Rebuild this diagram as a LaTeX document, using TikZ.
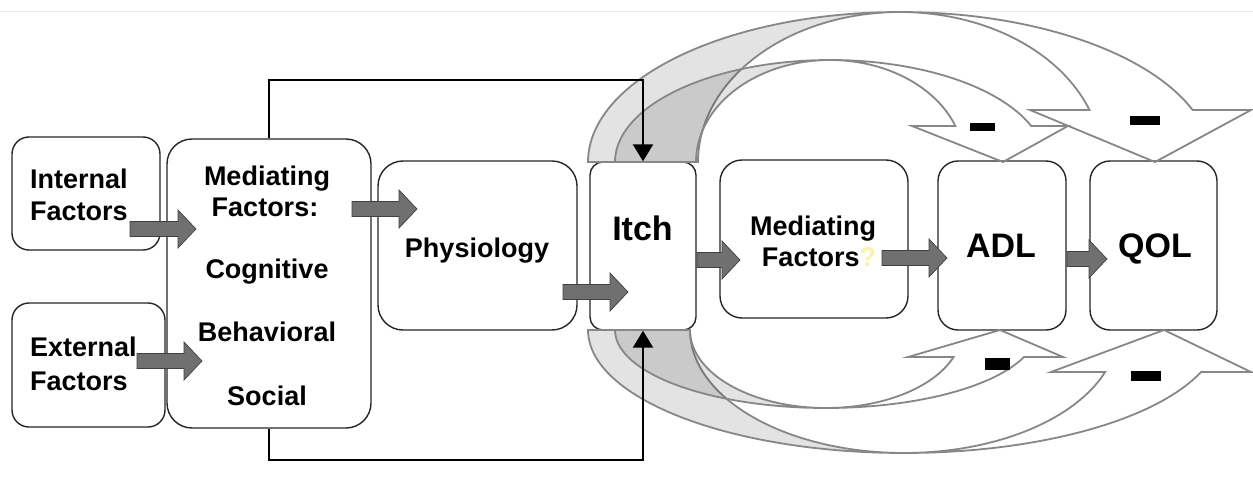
\documentclass[tikz,border=0pt]{standalone}
\usepackage{fontspec}
\setmainfont{Liberation Sans}
\usetikzlibrary{arrows.meta,calc}
\definecolor{blockgray}{RGB}{112,112,112}
\definecolor{curvegray}{RGB}{135,135,135}
\definecolor{qyellow}{RGB}{250,244,170}
\tikzset{
  box/.style={draw=black!85, line width=1.4pt, inner sep=0pt, fill=white},
  lbl/.style={font=\bfseries\fontsize{27}{32}\selectfont, inner sep=0pt},
  biglbl/.style={font=\bfseries\fontsize{34}{40}\selectfont, inner sep=0pt},
  barrow/.style={fill=blockgray, draw=black!75, line width=0.7pt, line join=miter},
  curveline/.style={draw=curvegray, line width=1.8pt, line join=miter},
  curvefill/.style={fill=black, fill opacity=0.11},
  fb/.style={line width=2.2pt, -{Triangle[length=17pt,width=20pt]}},
  minusbar/.style={fill=black, inner sep=0pt, draw=none},
}
% block arrow from coordinate #1 to tip coordinate #2 (horizontal)
\newcommand{\blockarrow}[2]{%
  \draw[barrow] ($(#1)+(0,-7.5)$) -- ($(#2)+(-18,-7.5)$) -- ($(#2)+(-18,-19)$) -- (#2)
    -- ($(#2)+(-18,19)$) -- ($(#2)+(-18,7.5)$) -- ($(#1)+(0,7.5)$) -- cycle;}
% curved ribbon arrow; parameters in \ccx \ccy \cro \cri \cry \csg \chh \chl \chr \ctx
\newcommand{\drawcurve}{%
  \pgfmathsetmacro{\cte}{asin(\chh/\cry)}%
  \pgfmathsetmacro{\chy}{\ccy+\csg*\chh}%
  \fill[curvefill] plot[domain=180:90,samples=50,variable=\t] ({\ccx+\cro*cos(\t)},{\ccy+\csg*\cry*sin(\t)})
     -- plot[domain=90:180,samples=50,variable=\t] ({\ccx+\cri*cos(\t)},{\ccy+\csg*\cry*sin(\t)}) -- cycle;
  \draw[curveline] plot[domain=180:\cte,samples=90,variable=\t] ({\ccx+\cro*cos(\t)},{\ccy+\csg*\cry*sin(\t)})
     -- (\chr,\chy) -- (\ctx,\ccy) -- (\chl,\chy)
     -- plot[domain=\cte:180,samples=90,variable=\t] ({\ccx+\cri*cos(\t)},{\ccy+\csg*\cry*sin(\t)}) -- cycle;
}
\begin{document}
\begin{tikzpicture}[x=1pt,y=-1pt]
\useasboundingbox (0,0) rectangle (1253,487);
\fill[white] (0,0) rectangle (1253,487);
\draw[black!8, line width=0.8pt] (0,11.5) -- (1253,11.5);

% boxes
\node[box, rounded corners=17pt, minimum width=148pt, minimum height=113pt] (intf) at (86,193.5) {};
\node[box, rounded corners=17pt, minimum width=153pt, minimum height=124pt] (extf) at (88.5,365) {};
\node[box, rounded corners=25pt, minimum width=204pt, minimum height=289pt] (med) at (269,283.5) {};
\node[box, rounded corners=25pt, minimum width=199pt, minimum height=169pt] (phys) at (477.5,245.5) {};
\node[box, rounded corners=13pt, minimum width=106pt, minimum height=168pt] (itch) at (643,246) {};
\node[box, rounded corners=22pt, minimum width=188pt, minimum height=158pt] (mf) at (814,239) {};
\node[box, rounded corners=20pt, minimum width=128pt, minimum height=169pt] (adl) at (1002,245.5) {};
\node[box, rounded corners=20pt, minimum width=127pt, minimum height=169pt] (qol) at (1153.5,245.5) {};

% texts
\node[lbl, anchor=base west] (t1) at (30,188.3) {Internal};
\node[lbl, anchor=base west] (t2) at (30,220.7) {Factors};
\node[lbl, anchor=base west] (t3) at (30,356.7) {External};
\node[lbl, anchor=base west] (t4) at (30,390) {Factors};
\node[lbl, anchor=base] (t5) at (267,185) {Mediating};
\node[lbl, anchor=base] (t6) at (265,216) {Factors:};
\node[lbl, anchor=base] (t7) at (267,278) {Cognitive};
\node[lbl, anchor=base] (t8) at (267,341.7) {Behavioral};
\node[lbl, anchor=base] (t9) at (267,405) {Social};
\node[lbl, anchor=base] (t10) at (477,257) {Physiology};
\node[biglbl, anchor=base] (t11) at (642.5,240.7) {Itch};
\node[lbl, anchor=base] (t12) at (813,235) {Mediating};
\node[lbl, anchor=base] (t13) at (819,266.7) {Factors\textcolor{qyellow}{?}};
\node[biglbl, anchor=base] (t14) at (1001,257) {ADL};
\node[biglbl, anchor=base] (t15) at (1155,257) {QOL};

% block arrows
\coordinate (a1s) at (130,229);  \coordinate (a1t) at (196,229);
\coordinate (a2s) at (137,361);  \coordinate (a2t) at (202,361);
\coordinate (a3s) at (352,209);  \coordinate (a3t) at (417,209);
\coordinate (a4s) at (563,292);  \coordinate (a4t) at (628,292);
\coordinate (a5s) at (697,260);  \coordinate (a5t) at (740,260);
\coordinate (a6s) at (882,258);  \coordinate (a6t) at (947,258);
\coordinate (a7s) at (1067,259); \coordinate (a7t) at (1107,259);
\blockarrow{a1s}{a1t}
\blockarrow{a2s}{a2t}
\blockarrow{a3s}{a3t}
\blockarrow{a4s}{a4t}
\blockarrow{a5s}{a5t}
\blockarrow{a6s}{a6t}
\blockarrow{a7s}{a7t}

% curved arrows (top outer, top inner, bottom outer, bottom inner)
\def\ccx{900}\def\ccy{162}\def\cro{312}\def\cri{202}\def\cry{150}\def\csg{-1}\def\chh{52}\def\chl{1030}\def\chr{1251}\def\ctx{1155}
\drawcurve
\def\ccx{830}\def\ccy{162}\def\cro{215}\def\cri{134}\def\cry{102}\def\csg{-1}\def\chh{36}\def\chl{912}\def\chr{1068}\def\ctx{1003}
\drawcurve
\def\ccx{904}\def\ccy{330}\def\cro{316}\def\cri{214}\def\cry{123}\def\csg{1}\def\chh{42}\def\chl{1051}\def\chr{1251}\def\ctx{1164}
\drawcurve
\def\ccx{826}\def\ccy{330}\def\cro{211}\def\cri{136}\def\cry{78}\def\csg{1}\def\chh{27}\def\chl{908}\def\chr{1063}\def\ctx{1000}
\drawcurve

% minus signs
\node[minusbar, minimum width=25pt, minimum height=8pt] (m1) at (982.5,127) {};
\node[minusbar, minimum width=30pt, minimum height=9pt] (m2) at (1145,120.5) {};
\node[minusbar, minimum width=25pt, minimum height=12pt] (m3) at (997.5,363.5) {};
\node[minusbar, minimum width=30pt, minimum height=10pt] (m4) at (1146,376) {};

% feedback arrows
\draw[fb] (med.north) -- ++(0,-58) -| (itch.north);
\draw[fb] (med.south) -- ++(0,31) -| (itch.south);
\end{tikzpicture}
\end{document}
